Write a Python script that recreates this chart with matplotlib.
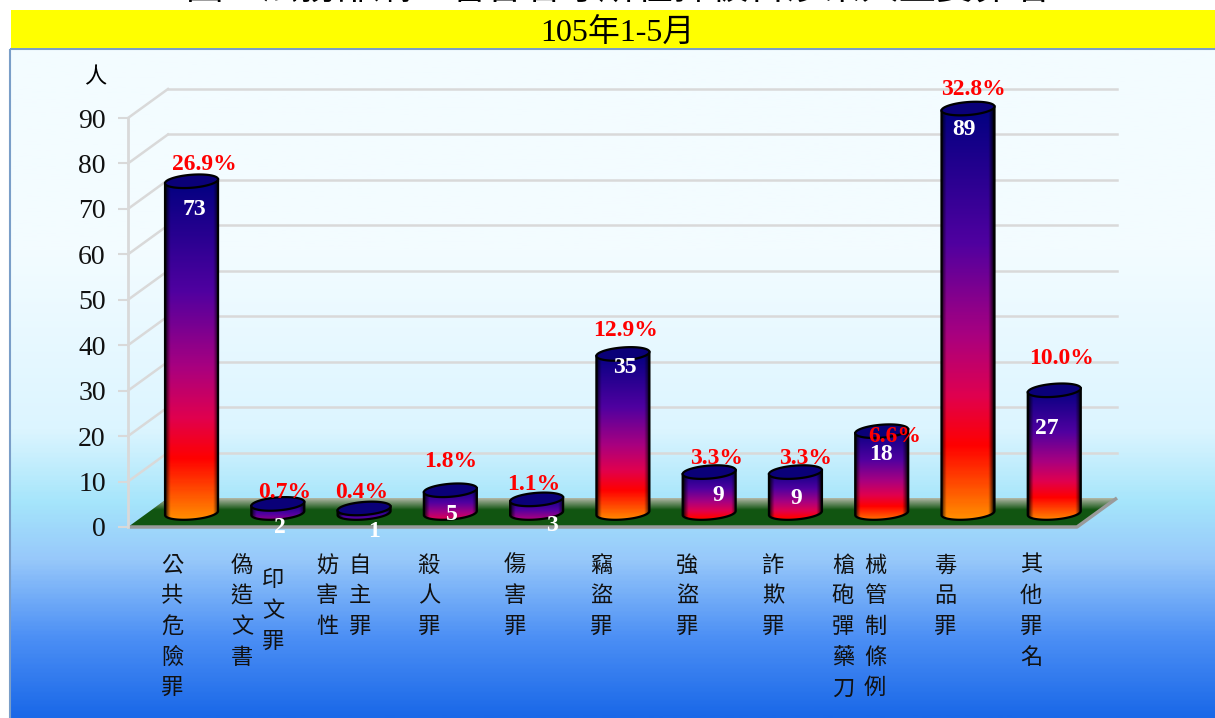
import numpy as np
import matplotlib
matplotlib.use('Agg')
import matplotlib.pyplot as plt
from matplotlib.colors import LinearSegmentedColormap
from matplotlib.patches import Polygon, Rectangle

# data
values = [73, 2, 1, 5, 3, 35, 9, 9, 18, 89, 27]
pct_labels = ['26.9%', '0.7%', '0.4%', '1.8%', '1.1%', '12.9%', '3.3%', '3.3%', '6.6%', '32.8%', '10.0%']
y_ticks = [0, 10, 20, 30, 40, 50, 60, 70, 80, 90]
# label columns, some categories wrap to a second column
label_cols = [['公共危險罪'], ['偽造文書', '印文罪'], ['妨害性', '自主罪'], ['殺人罪'], ['傷害罪'],
              ['竊盜罪'], ['強盜罪'], ['詐欺罪'], ['槍砲彈藥刀', '械管制條例'], ['毒品罪'], ['其他罪名']]
col_x = [[172], [242, 273], [327, 360], [429], [515], [601], [687], [773], [843, 875], [945], [1031]]
col_y0 = [[565], [565, 580], [565, 565], [565], [565], [565], [565], [565], [565, 565], [565], [565]]
title1 = '圖3  法務部矯正署各看守所在押被告涉案人主要罪名'
title2 = '105年1-5月'

# where the labels sit relative to the bar top, in pixels
pct_dx = [12.5, 7, -2, 0, -3, 2.5, 7, 10, 13, 5, 7.5]
pct_dy = [17, 11, 15.5, 29, 15, 23, 14, 14, -5, 18.6, 32]
val_dx = [2.5, 2.3, 10, 2, 15, 1.5, 9, 1, -1, -4, -7.5]
val_dy = [-28, -24, -23.5, -24, -26, -14, -23, -26, -23, -21, -38]

W, H = 1215, 718
CJK = ['Noto Sans CJK TC', 'DejaVu Sans']
SERIF = ['Liberation Serif', 'Noto Sans CJK TC']

fig = plt.figure(figsize=(W / 100, H / 100), dpi=100, facecolor='white')

# background, in pixel coords
bg = fig.add_axes([0, 0, 1, 1])
bg.set_xlim(0, W)
bg.set_ylim(H, 0)
bg.axis('off')
bg_cmap = LinearSegmentedColormap.from_list('bg', [
    (0.0, '#f3fcff'), (0.30, '#f3fcff'), (0.57, '#dcf5ff'), (0.68, '#a5e5fb'),
    (0.765, '#97c8fa'), (0.88, '#4d90f5'), (1.0, '#1a68e8')])
grad = np.linspace(0, 1, 400).reshape(-1, 1)
bg.imshow(grad, cmap=bg_cmap, extent=[9, W, H, 48], aspect='auto', zorder=1)
bg.add_patch(Rectangle((9.5, 48.5), W, H, fill=False, ec='#7a9ec8', lw=1.5, zorder=2))
bg.add_patch(Rectangle((11, 10), W - 11, 38, fc='#ffff00', ec='none', zorder=2))
bg.set_xlim(0, W)
bg.set_ylim(H, 0)
bg.text(617, 9, title1, ha='center', va='bottom', fontsize=27, family=CJK, color='black', zorder=3)
bg.text(617, 34, title2, ha='center', va='center', fontsize=23, family=SERIF, color='black', zorder=3)
bg.text(95, 77, '人', ha='center', va='center', fontsize=16, family=CJK, color='black', zorder=3)
for cols, xs, y0s in zip(label_cols, col_x, col_y0):
    for col, x, y0 in zip(cols, xs, y0s):
        for k, ch in enumerate(col):
            bg.text(x, y0 + k * 30.7, ch, ha='center', va='center', fontsize=16, family=CJK, color='#111111', zorder=3)

# front plane of the chart
left, right, bottom, top = 128, 1077, 527, 118
ax = fig.add_axes([left / W, 1 - bottom / H, (right - left) / W, (bottom - top) / H])
ax.patch.set_alpha(0)
ax.set_xlim(0, len(values))
ax.set_ylim(0, 90)
px_x = (right - left) / len(values)
px_y = (bottom - top) / 90
depth_x = 40 / px_x
depth_y = 29 / px_y

for s in ['top', 'right', 'bottom']:
    ax.spines[s].set_visible(False)
ax.spines['left'].set_color('#d9d9d9')
ax.spines['left'].set_linewidth(2)
ax.set_xticks([])
ax.set_yticks(y_ticks)
ax.tick_params(axis='y', length=7, width=1.5, color='#d9d9d9', pad=9, labelsize=20, labelcolor='#111111')
for lab in ax.get_yticklabels():
    lab.set_family('Liberation Serif')
    lab.set_va('center_baseline')

GRID = '#d9d9d9'
for v in y_ticks[1:]:
    ax.plot([0, depth_x], [v, v + depth_y], color=GRID, lw=1.8, zorder=1, clip_on=False)
    ax.plot([depth_x, len(values) + depth_x], [v + depth_y, v + depth_y], color=GRID, lw=1.8, zorder=1, clip_on=False)

# floor, fading to grey along the back edge
floor = [(0, 0), (len(values), 0), (len(values) + depth_x, depth_y), (depth_x, depth_y)]
floor_patch = Polygon(floor, closed=True, fc='#115511', ec='none', zorder=2, clip_on=False)
ax.add_patch(floor_patch)
fade = np.zeros((40, 2, 4))
fade[..., :3] = matplotlib.colors.to_rgb('#c0c0b4')
fade[..., 3] = np.linspace(0, 1, 40)[:, None]
fade_im = ax.imshow(fade, origin='lower', extent=[0, len(values) + depth_x, depth_y * 0.58, depth_y],
                    aspect='auto', zorder=2.1)
fade_im.set_clip_box(fig.bbox)
fade_im.set_clip_path(floor_patch)
ax.set_xlim(0, len(values))
ax.set_ylim(0, 90)
ax.plot([0, len(values), len(values) + depth_x], [0, 0, depth_y], color='#9a9a9a', lw=2.5, zorder=2.2,
        clip_on=False, solid_capstyle='butt')

# cylinders
bar_cmap = LinearSegmentedColormap.from_list('bar', [
    (0.0, '#000080'), (0.33, '#5000a0'), (0.55, '#a80080'), (0.7, '#e0004f'), (0.82, '#ff0000'), (1.0, '#ff9000')])
half_w = 26.5 / px_x
ell_h = 6.5 / px_y
tilt = 2 / px_y
base_shift = 14 / px_y
t = np.linspace(0, 2 * np.pi, 121)
for i, v in enumerate(values):
    cx = i + 0.5 + 20.4 / px_x
    ex = cx + half_w * np.cos(t)
    tilt_y = tilt * np.cos(t)
    y_top = v + base_shift
    y_base = base_shift
    lower = t[60:121]  # lower half of an ellipse, left to right
    low_x = cx + half_w * np.cos(lower)
    low_y = y_base + ell_h * np.sin(lower) + tilt * np.cos(lower)
    body = np.vstack([np.column_stack([low_x, low_y]),
                      [[cx + half_w, y_top + tilt]], [[cx - half_w, y_top - tilt]]])
    h_px = (y_top - y_base) * px_y
    span = h_px + 8 + 20 * np.exp(-h_px / 40)
    rows = np.linspace(0, (h_px + 8) / span, 300)
    cols = np.linspace(-1, 1, 60)
    shade = np.clip((1 - np.abs(cols)) / 0.2, 0.05, 1) ** 0.7
    rgb = bar_cmap(rows)[:, :3][:, None, :] * shade[None, :, None]
    poly = Polygon(body, closed=True, fc='none', ec='black', lw=1.6, zorder=3.2, clip_on=False)
    ax.add_patch(poly)
    im = ax.imshow(rgb, extent=[cx - half_w, cx + half_w, y_base - ell_h - tilt, y_top + tilt],
                   aspect='auto', zorder=3.1)
    im.set_clip_box(fig.bbox)
    im.set_clip_path(poly)
    ax.add_patch(Polygon(np.column_stack([ex, y_top + ell_h * np.sin(t) + tilt_y]), closed=True,
                         fc='#0a0078', ec='black', lw=1.6, zorder=3.3, clip_on=False))
    ax.text(cx + pct_dx[i] / px_x, y_top + pct_dy[i] / px_y, pct_labels[i], ha='center', va='center',
            color='#ff0000', fontsize=17, fontweight='bold', family='Liberation Serif', zorder=5, clip_on=False)
    ax.text(cx + val_dx[i] / px_x, y_top + val_dy[i] / px_y, str(v), ha='center', va='center',
            color='white', fontsize=17, fontweight='bold', family='Liberation Serif', zorder=5, clip_on=False)
ax.set_xlim(0, len(values))
ax.set_ylim(0, 90)

fig.savefig('out.png', dpi=100)
